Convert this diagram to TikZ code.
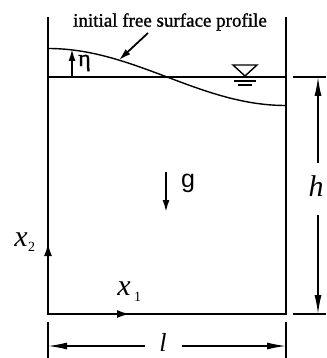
\documentclass[tikz,border=0pt]{standalone}
\usepackage{fontspec}
\setmainfont{Liberation Serif}
\newfontfamily\sansf{Liberation Sans}
\newfontfamily\heavyserif[FakeBold=1.2]{Liberation Serif}
\usetikzlibrary{arrows.meta}
\begin{document}
\begin{tikzpicture}[x=1pt,y=-1pt,
  wall/.style={line width=2.2pt},
  thinline/.style={line width=1.4pt},
  axisarrow/.style={line width=2.2pt,-{Latex[length=13pt,width=8pt]}},
  smallarrow/.style={line width=1.8pt,-{Latex[length=12pt,width=7pt]}},
  dimarrow/.style={line width=1.4pt,-{Latex[length=19pt,width=7pt]}},
  lbl/.style={inner sep=0pt},
  mathlbl/.style={inner sep=0pt,font=\fontsize{30}{30}\selectfont\itshape},
  subfont/.style={font=\fontsize{14}{14}\selectfont}]
\useasboundingbox (0,0) rectangle (326,358);
% tank corners
\coordinate (TL) at (48,17);
\coordinate (BL) at (48,314);
\coordinate (BR) at (286,314);
\coordinate (TR) at (286,17);
\coordinate (WL) at (48,77);
\coordinate (WR) at (286,77);
\draw[wall] (TL) -- (BL) -- (BR) -- (TR);
% axes
\coordinate (x2tip) at (48,243);
\coordinate (x1tip) at (130,314);
\draw[axisarrow] (BL) -- (x2tip);
\draw[axisarrow] (BL) -- (x1tip);
\node[lbl,mathlbl] (x2) at (21,240) {x};
\node[lbl,subfont,anchor=north west] (x2s) at (28,242) {2};
\node[lbl,mathlbl] (x1) at (124,289) {x};
\node[lbl,subfont,anchor=north west] (x1s) at (134,292) {1};
% still water line
\draw[thinline] (WL) -- (WR);
% free surface
\draw[thinline] plot[variable=\t,domain=0:1,samples=80] ({48+238*\t},{77-28.5*cos(180*\t)});
% water level symbol
\draw[thinline] (233,65) -- (257,65) -- (245,76) -- cycle;
\draw[thinline] (234,81) -- (256,81);
\draw[thinline] (238,85) -- (252,85);
% eta
\coordinate (etab) at (72,77);
\coordinate (etat) at (72,49);
\draw[smallarrow] (etab) -- (etat);
\node[lbl,font=\fontsize{24}{24}\heavyserif,anchor=west] (eta) at (78,63) {η};
% title and leader
\node[lbl,font=\fontsize{19}{19}\heavyserif] (title) at (170,22) {initial free surface profile};
\coordinate (leadstart) at (148,33);
\coordinate (leadtip) at (119,60);
\draw[smallarrow] (leadstart) -- (leadtip);
% gravity
\coordinate (gs) at (166,172);
\coordinate (ge) at (166,212);
\draw[smallarrow] (gs) -- (ge);
\node[lbl,font=\fontsize{25}{25}\sansf] (g) at (188,183) {g};
% h dimension
\coordinate (hT1) at (293,77);
\coordinate (hT2) at (326,77);
\coordinate (hB1) at (293,314);
\coordinate (hB2) at (326,314);
\draw[thinline] (hT1) -- (hT2);
\draw[thinline] (hB1) -- (hB2);
\node[lbl,mathlbl] (h) at (316,186) {h};
\coordinate (hup) at (318,163);
\coordinate (htop) at (318,77);
\coordinate (hdn) at (318,215);
\coordinate (hbot) at (318,314);
\draw[dimarrow] (hup) -- (htop);
\draw[dimarrow] (hdn) -- (hbot);
% l dimension
\coordinate (lT1) at (48,322);
\coordinate (lT2) at (48,358);
\coordinate (rT1) at (286,322);
\coordinate (rT2) at (286,358);
\draw[thinline] (lT1) -- (lT2);
\draw[thinline] (rT1) -- (rT2);
\node[lbl,inner sep=0pt,font=\fontsize{26}{26}\selectfont\itshape] (l) at (163,342) {l};
\coordinate (la) at (145,346);
\coordinate (lleft) at (48,346);
\coordinate (lb) at (182,346);
\coordinate (lright) at (286,346);
\draw[dimarrow] (la) -- (lleft);
\draw[dimarrow] (lb) -- (lright);
\end{tikzpicture}
\end{document}
